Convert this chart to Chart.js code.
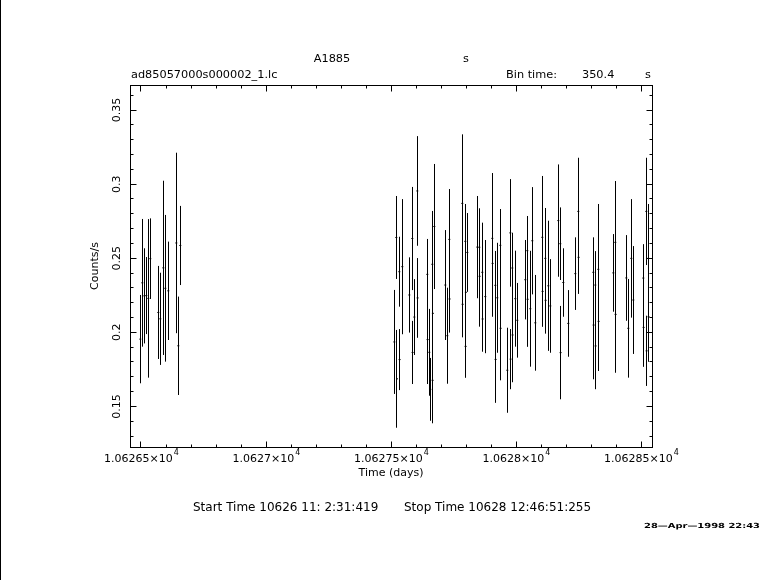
<!DOCTYPE html>
<html>
<head>
<meta charset="utf-8">
<script src="https://cdn.jsdelivr.net/npm/chart.js@4.4.0/dist/chart.umd.min.js"></script>
<style>
html,body{margin:0;padding:0;background:#fff;}
canvas{display:block;}
</style>
</head>
<body>
<canvas id="lc" width="781" height="580"></canvas>
<script>
// light curve: bin centre (days), rate (counts/s), 1-sigma error
const time=[
10626.4972,10626.5052,10626.5132,10626.5212,10626.5292,10626.5372,10626.5692,10626.5772,10626.5892,10626.5972,10626.6092,10626.6412,10626.6492,10626.6572,
10627.5132,10627.5212,10627.5240,10627.5332,10627.5344,10627.5452,10627.5732,10627.5852,10627.5864,10627.5932,10627.6052,10627.6064,10627.6452,10627.6464,10627.6532,10627.6572,10627.6652,10627.6664,10627.6676,10627.6732,10627.7172,10627.7252,10627.7332,10627.7344,10627.7852,10627.7864,10627.7972,10627.7984,10627.7996,10627.8052,
10627.8452,10627.8532,10627.8544,10627.8652,10627.8664,10627.8772,10627.9052,10627.9064,10627.9172,10627.9184,10627.9252,10627.9372,10627.9384,10627.9652,10627.9772,10627.9784,10627.9852,10627.9864,10627.9972,10628.0052,10628.0372,10628.0452,10628.0464,10628.0572,10628.0652,10628.0772,10628.1052,10628.1064,10628.1172,10628.1184,10628.1292,10628.1372,10628.1692,
10628.1772,10628.1784,10628.1892,10628.2092,10628.2372,10628.2492,10628.2504,10628.3092,10628.3104,10628.3172,10628.3184,10628.3292,10628.3304,10628.3892,10628.3972,10628.3984,10628.4412,10628.4492,10628.4612,10628.4692,10628.5092,10628.5104,10628.5212,10628.5224,10628.5292,10628.5304
];
const rate=[
0.1954,0.2334,0.2246,0.2248,0.2229,0.2497,0.2134,0.2091,0.2435,0.2297,0.2280,0.2603,0.1909,0.2586,
0.1935,0.2640,0.1686,0.2409,0.1816,0.2443,0.2252,0.2633,0.1864,0.2103,0.2954,0.2232,0.2391,0.1951,0.1865,0.1615,0.2459,0.1676,0.2128,0.2714,0.2319,0.1977,0.2627,0.2225,0.2870,0.2189,0.2614,0.1905,0.2270,0.2539,
0.2575,0.2574,0.2378,0.2405,0.2090,0.2241,0.2634,0.2465,0.2317,0.1817,0.2233,0.2587,0.2027,0.1744,0.2671,0.1819,0.2434,0.1982,0.2227,0.2081,0.2355,0.2551,0.2223,0.2159,0.2618,0.2064,0.2641,0.2276,0.2499,0.2216,0.2314,0.2178,0.2754,
0.2598,0.1863,0.2336,0.2060,0.2396,0.2816,0.2506,0.2405,0.2049,0.2319,0.1908,0.2425,0.2074,0.2401,0.2607,0.2121,0.2367,0.2027,0.2499,0.2218,0.2366,0.2033,0.2816,0.1875,0.2499,0.2105
];
const err=[
0.0298,0.0431,0.0321,0.0260,0.0535,0.0272,0.0314,0.0311,0.0588,0.0495,0.0332,0.0609,0.0332,0.0267,
0.0351,0.0280,0.0330,0.0236,0.0206,0.0456,0.0254,0.0348,0.0213,0.0256,0.0370,0.0269,0.0239,0.0300,0.0293,0.0212,0.0360,0.0290,0.0259,0.0422,0.0371,0.0324,0.0340,0.0227,0.0466,0.0223,0.0252,0.0212,0.0342,0.0266,
0.0345,0.0263,0.0340,0.0335,0.0221,0.0382,0.0441,0.0360,0.0232,0.0293,0.0371,0.0245,0.0351,0.0287,0.0363,0.0203,0.0238,0.0319,0.0324,0.0252,0.0268,0.0234,0.0321,0.0391,0.0362,0.0323,0.0414,0.0239,0.0340,0.0225,0.0439,0.0316,0.0379,
0.0245,0.0315,0.0231,0.0225,0.0245,0.0362,0.0247,0.0236,0.0366,0.0229,0.0292,0.0441,0.0335,0.0262,0.0414,0.0394,0.0289,0.0333,0.0400,0.0364,0.0229,0.0266,0.0362,0.0237,0.0367,0.0304
];

const xTicks=[10626.5,10627,10627.5,10628,10628.5];
const xTickLabels=["1.06265","1.0627","1.06275","1.0628","1.06285"];
const yTicks=[0.15,0.2,0.25,0.3,0.35];
const yTickLabels=["0.15","0.2","0.25","0.3","0.35"];
const xMin=10626.456, xMax=10628.544;
const yMin=0.1226, yMax=0.3669;

const FONT="DejaVu Sans";

/* error bars + frame + text */
const pgplot={
id:"pgplot",
beforeDatasetsDraw(chart){
const c=chart.ctx, xs=chart.scales.x, ys=chart.scales.y;
c.save();
c.strokeStyle="#000";
c.lineWidth=1;
c.beginPath();
for(let i=0;i<time.length;i++){
let px=Math.floor(xs.getPixelForValue(time[i]))+0.5;
c.moveTo(px,ys.getPixelForValue(rate[i]+err[i]));
c.lineTo(px,ys.getPixelForValue(rate[i]-err[i]));
}
c.stroke();
c.restore();
},
afterDraw(chart){
const c=chart.ctx, xs=chart.scales.x, ys=chart.scales.y, a=chart.chartArea;
const L=Math.round(a.left)+0.5, R=Math.round(a.right)+0.5, T=Math.round(a.top)+0.5, B=Math.round(a.bottom)+0.5;
c.save();
c.strokeStyle="#000";
c.fillStyle="#000";
c.lineWidth=1;

// page edge line
c.beginPath();c.moveTo(0.5,0);c.lineTo(0.5,580);c.stroke();

// frame
c.strokeRect(L,T,R-L,B-T);

// ticks, inward on all four sides
c.beginPath();
for(let v=10626.5;v<=xMax;v+=0.1){
let major=xTicks.some(t=>Math.abs(t-v)<1e-6);
let len=major?6:3;
let px=Math.floor(xs.getPixelForValue(v))+0.5;
c.moveTo(px,B);c.lineTo(px,B-len);
c.moveTo(px,T);c.lineTo(px,T+len);
}
for(let k=13;k<=36;k++){
let v=k/100;
let major=yTicks.some(t=>Math.abs(t-v)<1e-6);
let len=major?6:3;
let py=Math.floor(ys.getPixelForValue(v))+0.5;
c.moveTo(L,py);c.lineTo(L+len,py);
c.moveTo(R,py);c.lineTo(R-len,py);
}
c.stroke();

// x tick labels with superscript exponent
c.textBaseline="middle";
xTicks.forEach((t,i)=>{
c.font="11px "+FONT;
let base=xTickLabels[i]+"\u00d710";
let w1=c.measureText(base).width;
c.font="8px "+FONT;
let w2=c.measureText("4").width;
let px=xs.getPixelForValue(t);
let x0=px-(w1+w2)/2;
c.font="11px "+FONT;
c.textAlign="left";
c.fillText(base,x0,459);
c.font="8px "+FONT;
c.fillText("4",x0+w1+1,453);
});

// y tick labels, rotated
c.font="11px "+FONT;
c.textAlign="center";
yTicks.forEach((t,i)=>{
let py=ys.getPixelForValue(t);
c.save();
c.translate(117,py);
c.rotate(-Math.PI/2);
c.fillText(yTickLabels[i],0,0);
c.restore();
});

// axis titles
c.fillText("Time (days)",(a.left+a.right)/2,473);
c.save();
c.translate(95,(a.top+a.bottom)/2);
c.rotate(-Math.PI/2);
c.fillText("Counts/s",0,0);
c.restore();

// header
c.font="11.3px "+FONT;
c.fillText("A1885",332,59);
c.fillText("s",466,59);
c.textAlign="left";
c.fillText("ad85057000s000002_1.lc",131,75);
c.fillText("Bin time:",506,75);
c.fillText("350.4",582,75);
c.fillText("s",645,75);

// footer
c.font="12px "+FONT;
c.fillText("Start Time 10626 11: 2:31:419",193,508);
c.fillText("Stop Time 10628 12:46:51:255",404,508);

// plot date, squat bold text stretched to width
c.font="bold 7px "+FONT;
let stamp="28\u2014Apr\u20141998 22:43";
let sw=c.measureText(stamp).width;
c.save();
c.translate(644,526);
c.scale(116/sw,1);
c.fillText(stamp,0,0);
c.restore();
c.restore();
}
};

const ctx=document.getElementById("lc");

new Chart(ctx,{
type:"scatter",
data:{
datasets:[{
data:time.map((t,i)=>({x:t,y:rate[i]})),
pointStyle:"line",
pointRadius:1,
pointBorderWidth:1,
borderColor:"#000",
backgroundColor:"#000",
showLine:false
}]
},
options:{
responsive:false,
animation:false,
events:[],
layout:{padding:{left:130,top:85,right:129,bottom:133}},
plugins:{legend:{display:false},tooltip:{enabled:false}},
scales:{
x:{type:"linear",display:false,min:xMin,max:xMax},
y:{type:"linear",display:false,min:yMin,max:yMax}
}
},
plugins:[pgplot]
});
</script>
</body>
</html>
